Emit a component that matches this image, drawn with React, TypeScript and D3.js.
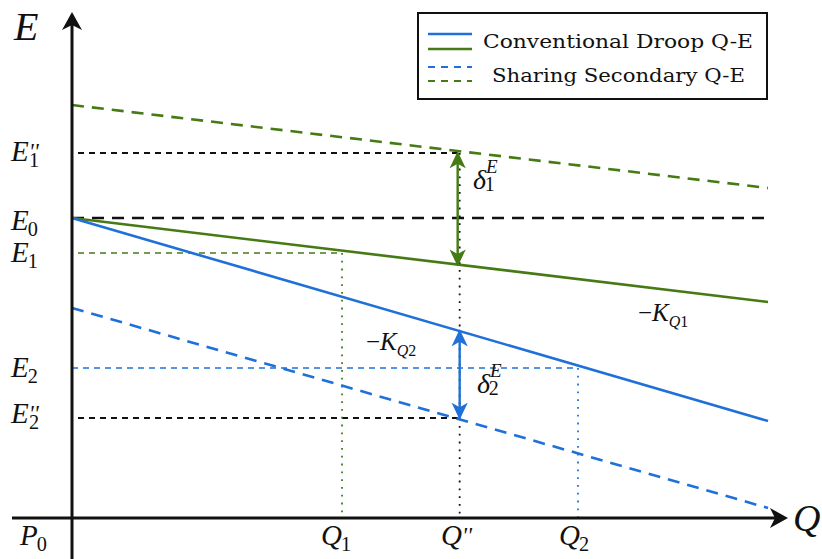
import * as d3 from 'd3';

// Q axis positions (0..10) and E levels (0..10)
const qKeys = ['Q1', 'Qpp', 'Q2'];
const qValues = [3.88, 5.57, 7.27];
const eKeys = ['E1pp', 'E0', 'E1', 'E2', 'E2pp'];
const eValues = [7.3, 6.0, 5.3, 3.0, 2.0];

// series as [Q, E] end points
const droopGreen: [number, number][] = [[0, 6.0], [10, 4.32]];
const droopBlue: [number, number][] = [[0, 6.0], [10, 1.94]];
const secondaryGreen: [number, number][] = [[0, 8.26], [10, 6.6]];
const secondaryBlue: [number, number][] = [[0, 4.2], [10, 0.2]];

const legendLabels = ['Conventional Droop Q-E', 'Sharing Secondary Q-E'];

const BLUE = '#1f70d8';
const GREEN = '#467a14';
const MATH = '"Liberation Serif", "DejaVu Serif", serif';

// symbol with subscript and optional double prime, laid out as tspans
function Sym({ x, y, main, sub, prime, size = 29 }: {
    x: number; y: number; main: string; sub?: string; prime?: boolean; size?: number;
}) {
    return (
        <text x={x} y={y} fontSize={size}>
            <tspan fontStyle="italic">{main}</tspan>
            {prime && <tspan fontStyle="italic" fontSize={size * 0.8} dx={0} dy={-size * 0.08}>''</tspan>}
            {sub && <tspan fontSize={size * 0.7} dx={prime ? -size * 0.33 : -1} dy={prime ? size * 0.3 : size * 0.22}>{sub}</tspan>}
        </text>
    );
}

export default function App() {
    const W = 822, H = 559;
    const x = d3.scaleLinear().domain([0, 10]).range([72, 768]);
    const y = d3.scaleLinear().domain([0, 10]).range([518, 18]);
    const line = d3.line<[number, number]>().x(d => x(d[0])).y(d => y(d[1]));

    const eOf = (s: [number, number][], q: number) =>
        s[0][1] + (s[1][1] - s[0][1]) * (q - s[0][0]) / (s[1][0] - s[0][0]);

    const E = (k: string) => eValues[eKeys.indexOf(k)];
    const Q = (k: string) => qValues[qKeys.indexOf(k)];

    const qpp = Q('Qpp');
    const g1Top = E('E1pp'), g1Bot = eOf(droopGreen, qpp);
    const b2Top = eOf(droopBlue, qpp), b2Bot = E('E2pp');

    return (
        <svg width={W} height={H} style={{ position: 'absolute', left: 0, top: 0, background: '#fff' }}>
            <defs>
                <marker id="axArrow" viewBox="0 0 20 20" refX="14" refY="10" markerWidth="20" markerHeight="20"
                    markerUnits="userSpaceOnUse" orient="auto">
                    <path d="M0,0 L18,10 L0,20 L5,10 Z" fill="#111" />
                </marker>
                <marker id="gArrow" viewBox="0 0 20 20" refX="17" refY="10" markerWidth="18" markerHeight="18"
                    markerUnits="userSpaceOnUse" orient="auto-start-reverse">
                    <path d="M0,1 L19,10 L0,19 L5,10 Z" fill={GREEN} />
                </marker>
                <marker id="bArrow" viewBox="0 0 20 20" refX="17" refY="10" markerWidth="18" markerHeight="18"
                    markerUnits="userSpaceOnUse" orient="auto-start-reverse">
                    <path d="M0,1 L19,10 L0,19 L5,10 Z" fill={BLUE} />
                </marker>
            </defs>

            {/* horizontal guides */}
            <line x1={x(0) + 6} x2={x(qpp)} y1={y(E('E1pp'))} y2={y(E('E1pp'))} stroke="#111" strokeWidth={1.8} strokeDasharray="6 5" />
            <line x1={x(0)} x2={x(10)} y1={y(E('E0'))} y2={y(E('E0'))} stroke="#111" strokeWidth={2.4} strokeDasharray="12 8" />
            <line x1={x(0) + 6} x2={x(Q('Q1'))} y1={y(E('E1'))} y2={y(E('E1'))} stroke={GREEN} strokeWidth={1.6} strokeDasharray="6 5" />
            <line x1={x(0)} x2={x(Q('Q2'))} y1={y(E('E2'))} y2={y(E('E2'))} stroke={BLUE} strokeWidth={1.6} strokeDasharray="6 5" />
            <line x1={x(0) + 6} x2={x(qpp)} y1={y(E('E2pp'))} y2={y(E('E2pp'))} stroke="#111" strokeWidth={1.8} strokeDasharray="6 5" />

            {/* vertical dotted guides */}
            <line x1={x(Q('Q1'))} x2={x(Q('Q1'))} y1={y(E('E1'))} y2={y(0)} stroke={GREEN} strokeWidth={1.8} strokeDasharray="1.8 6" />
            <line x1={x(qpp)} x2={x(qpp)} y1={y(E('E1pp'))} y2={y(0)} stroke="#111" strokeWidth={1.8} strokeDasharray="1.8 6" />
            <line x1={x(Q('Q2'))} x2={x(Q('Q2'))} y1={y(E('E2'))} y2={y(0)} stroke={BLUE} strokeWidth={1.8} strokeDasharray="1.8 6" />

            {/* series */}
            <path d={line(secondaryGreen)!} fill="none" stroke={GREEN} strokeWidth={2.6} strokeDasharray="12 8" />
            <path d={line(secondaryBlue)!} fill="none" stroke={BLUE} strokeWidth={2.6} strokeDasharray="12 8" />
            <path d={line(droopGreen)!} fill="none" stroke={GREEN} strokeWidth={2.6} />
            <path d={line(droopBlue)!} fill="none" stroke={BLUE} strokeWidth={2.6} />

            {/* delta arrows */}
            <line x1={x(qpp) - 2} x2={x(qpp) - 2} y1={y(g1Top)} y2={y(g1Bot)} stroke={GREEN} strokeWidth={2.4}
                markerStart="url(#gArrow)" markerEnd="url(#gArrow)" />
            <line x1={x(qpp)} x2={x(qpp)} y1={y(b2Top)} y2={y(b2Bot)} stroke={BLUE} strokeWidth={2.4}
                markerStart="url(#bArrow)" markerEnd="url(#bArrow)" />

            {/* axes */}
            <line x1={12} x2={784} y1={y(0)} y2={y(0)} stroke="#111" strokeWidth={3} markerEnd="url(#axArrow)" />
            <line x1={x(0)} x2={x(0)} y1={H} y2={16} stroke="#111" strokeWidth={3} markerEnd="url(#axArrow)" />

            {/* labels */}
            <g fontFamily={MATH} fill="#111">
                <text x={14} y={40} fontSize={40} fontStyle="italic">E</text>
                <text x={793} y={531} fontSize={38} fontStyle="italic">Q</text>
                <Sym x={11} y={161} main="E" sub="1" prime />
                <Sym x={11} y={230} main="E" sub="0" />
                <Sym x={11} y={262} main="E" sub="1" />
                <Sym x={11} y={377} main="E" sub="2" />
                <Sym x={11} y={423} main="E" sub="2" prime />
                <Sym x={20} y={545} main="P" sub="0" />
                <Sym x={321} y={545} main="Q" sub="1" />
                <Sym x={441} y={545} main="Q" prime />
                <Sym x={559} y={545} main="Q" sub="2" />
                <text x={366} y={350} fontSize={25}><tspan>−</tspan><tspan fontStyle="italic">K</tspan><tspan fontSize={16} fontStyle="italic" dy={6}>Q</tspan><tspan fontSize={16}>2</tspan></text>
                <text x={638} y={321} fontSize={25}><tspan>−</tspan><tspan fontStyle="italic">K</tspan><tspan fontSize={16} fontStyle="italic" dy={6}>Q</tspan><tspan fontSize={16}>1</tspan></text>
                <text x={473} y={189} fontSize={28}><tspan fontStyle="italic">δ</tspan><tspan fontStyle="italic" fontSize={19} dy={-16}>E</tspan><tspan fontSize={20} dx={-13} dy={18}>1</tspan></text>
                <text x={477} y={393} fontSize={28}><tspan fontStyle="italic">δ</tspan><tspan fontStyle="italic" fontSize={19} dy={-16}>E</tspan><tspan fontSize={20} dx={-13} dy={18}>2</tspan></text>
            </g>

            {/* legend */}
            <g>
                <rect x={418} y={13} width={349} height={86} fill="#fff" stroke="#111" strokeWidth={2} />
                <line x1={428} x2={472} y1={34} y2={34} stroke={BLUE} strokeWidth={2.4} />
                <line x1={428} x2={472} y1={49} y2={49} stroke={GREEN} strokeWidth={2.4} />
                <line x1={428} x2={472} y1={67} y2={67} stroke={BLUE} strokeWidth={2.2} strokeDasharray="7 6" />
                <line x1={428} x2={472} y1={81} y2={81} stroke={GREEN} strokeWidth={2.2} strokeDasharray="7 6" />
                <text x={483} y={48} fontFamily={'"DejaVu Serif", serif'} fontSize={19} fill="#111"
                    textLength={270} lengthAdjust="spacingAndGlyphs">{legendLabels[0]}</text>
                <text x={492} y={82} fontFamily={'"DejaVu Serif", serif'} fontSize={19} fill="#111"
                    textLength={253} lengthAdjust="spacingAndGlyphs">{legendLabels[1]}</text>
            </g>
        </svg>
    );
}
